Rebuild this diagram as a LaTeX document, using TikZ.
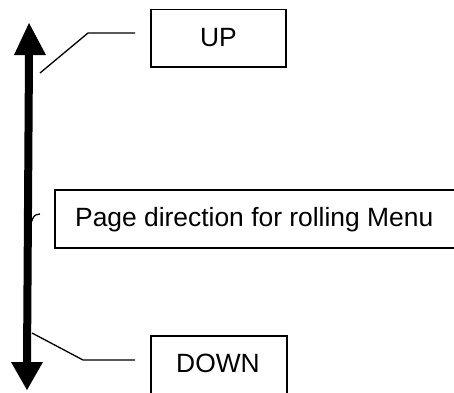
\documentclass[tikz,border=0pt]{standalone}
\usepackage{fontspec}
\setmainfont{Liberation Sans}
\begin{document}
\begin{tikzpicture}[x=1pt,y=1pt,
  lbl/.style={font=\fontsize{26.4}{30}\selectfont, inner sep=0pt},
  boxline/.style={draw=black, line width=1.5pt},
  callout/.style={draw=black, line width=1.3pt},
  shaft/.style={draw=black, line width=8pt},
  head/.style={fill=black}]
\useasboundingbox (0,0) rectangle (454,-392);
\begin{scope}
\clip (0,0) rectangle (454,-392);
% boxes
\draw[boxline] (151,-9.5) rectangle (286,-67);
\node[lbl] (up) at (218.5,-38) {UP};
\draw[boxline] (55,-190) rectangle (470,-248);
\node[lbl, anchor=west] (page) at (75,-219.5) {Page direction for rolling Menu};
\draw[boxline] (151,-336) rectangle (287,-410);
\node[lbl] (down) at (218,-363) {DOWN};
% arrow
\coordinate (top) at (29,-23);
\coordinate (bot) at (27,-390);
\coordinate (topbase) at (29,-55);
\coordinate (botbase) at (27,-362);
\draw[shaft] (topbase) -- (botbase);
\fill[head] (top) -- (14,-55) -- (46,-55) -- cycle;
\fill[head] (bot) -- (11,-362) -- (43,-362) -- cycle;
% callouts
\coordinate (c1a) at (40,-73);
\coordinate (c1b) at (88,-33);
\coordinate (c1c) at (135,-33);
\draw[callout] (c1a) -- (c1b) -- (c1c);
\coordinate (c3a) at (32,-333);
\coordinate (c3b) at (83,-360);
\coordinate (c3c) at (135,-360);
\draw[callout] (c3a) -- (c3b) -- (c3c);
\coordinate (c2a) at (31,-223);
\coordinate (c2b) at (40,-214);
\draw[callout] (c2a) .. controls (34,-215) .. (c2b);
\end{scope}
\end{tikzpicture}
\end{document}
